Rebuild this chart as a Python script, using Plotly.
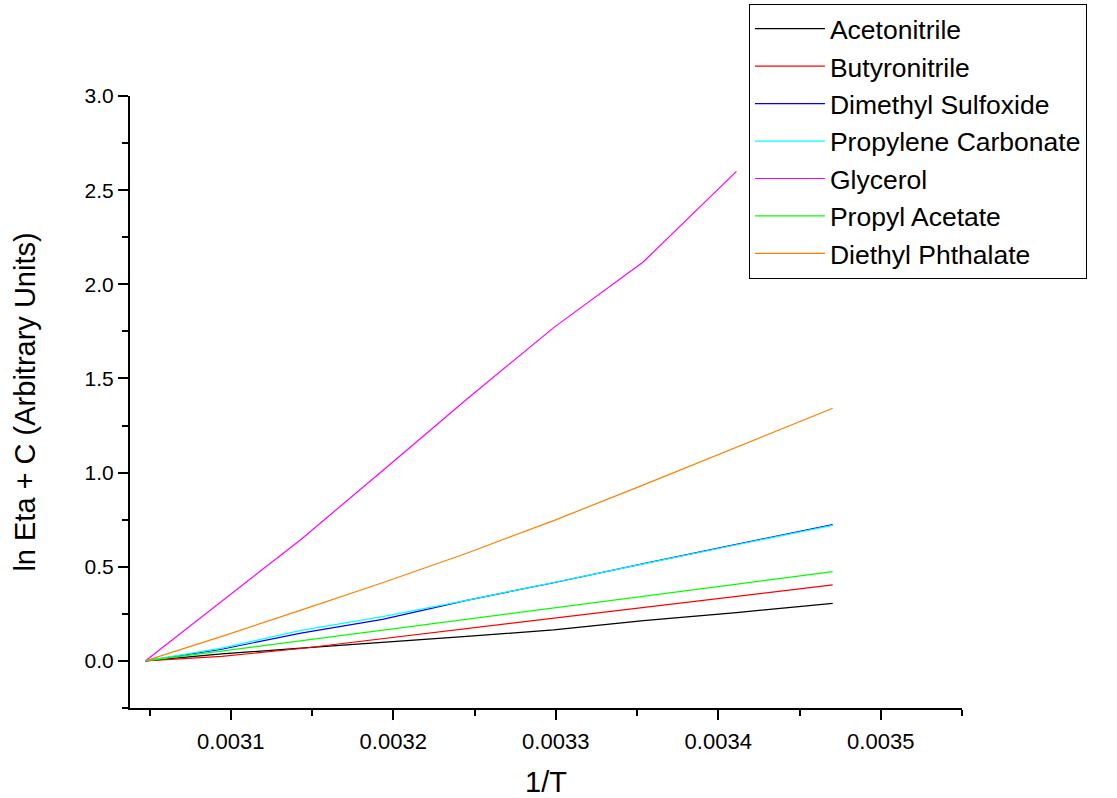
import plotly.graph_objects as go

# Reciprocal temperature (1/K), 55 °C down to 15 °C in 5 °C steps
inv_T = [0.0030474, 0.0030945, 0.0031432, 0.0031934, 0.0032452,
         0.0032987, 0.0033540, 0.0034112, 0.0034704]

# ln(viscosity) shifted so every solvent starts at zero
acetonitrile = [0, 0.037, 0.068, 0.097, 0.130, 0.165, 0.214, 0.257, 0.306]
butyronitrile = [0, 0.024, 0.066, 0.118, 0.172, 0.226, 0.284, 0.343, 0.404]
dimethyl_sulfoxide = [0, 0.062, 0.148, 0.221, 0.322, 0.415, 0.517, 0.620, 0.724]
propylene_carbonate = [0, 0.068, 0.162, 0.235, 0.322, 0.415, 0.515, 0.617, 0.720]
glycerol = [0, 0.315, 0.645, 1.010, 1.390, 1.770, 2.120, 2.600]
propyl_acetate = [0, 0.053, 0.106, 0.162, 0.221, 0.280, 0.345, 0.407, 0.474]
diethyl_phthalate = [0, 0.130, 0.270, 0.415, 0.572, 0.745, 0.935, 1.137, 1.342]

series = [
    ("Acetonitrile", acetonitrile, "#000000"),
    ("Butyronitrile", butyronitrile, "#FF0000"),
    ("Dimethyl Sulfoxide", dimethyl_sulfoxide, "#0000FF"),
    ("Propylene Carbonate", propylene_carbonate, "#00FFFF"),
    ("Glycerol", glycerol, "#FF00FF"),
    ("Propyl Acetate", propyl_acetate, "#00FF00"),
    ("Diethyl Phthalate", diethyl_phthalate, "#FF8000"),
]

FONT = "Liberation Sans, Arial, sans-serif"

fig = go.Figure()
for name, values, color in series:
    fig.add_trace(go.Scatter(
        x=inv_T[:len(values)], y=values, mode="lines", name=name,
        line=dict(color=color, width=1.2),
    ))

fig.update_layout(
    width=1117, height=798,
    margin=dict(l=130, r=155, t=96, b=90, autoexpand=False),
    plot_bgcolor="white", paper_bgcolor="white",
    font=dict(family=FONT, color="black"),
    legend=dict(
        xref="container", yref="container",
        x=0.6705, y=0.995, xanchor="left", yanchor="top",
        bgcolor="white", bordercolor="black", borderwidth=1,
        font=dict(size=26.5, family=FONT),
        itemwidth=70, tracegroupgap=0,
    ),
    showlegend=True,
)

fig.update_xaxes(
    range=[0.003038, 0.00355], autorange=False, automargin=False,
    tick0=0.0031, dtick=0.0001, tickformat=".4f",
    showgrid=False, zeroline=False,
    showline=True, linecolor="black", linewidth=2,
    ticks="outside", ticklen=10, tickwidth=2, tickcolor="black",
    ticklabelstandoff=3,
    tickfont=dict(size=22, family=FONT),
    minor=dict(ticks="outside", ticklen=6, tickwidth=2, tickcolor="black",
               dtick=0.00005, tick0=0.00305, showgrid=False),
    title=dict(text="1/T", standoff=19, font=dict(size=29, family=FONT)),
)

fig.update_yaxes(
    range=[-0.25, 3.0], autorange=False, automargin=False,
    tick0=0, dtick=0.5, tickformat=".1f",
    showgrid=False, zeroline=False,
    showline=True, linecolor="black", linewidth=2,
    ticks="outside", ticklen=10, tickwidth=2, tickcolor="black",
    tickfont=dict(size=21),
    minor=dict(ticks="outside", ticklen=6, tickwidth=2, tickcolor="black",
               dtick=0.25, tick0=0, showgrid=False),
    title=dict(text="ln Eta + C (Arbitrary Units)", standoff=40,
               font=dict(size=29)),
)

fig.write_html("out.html")
